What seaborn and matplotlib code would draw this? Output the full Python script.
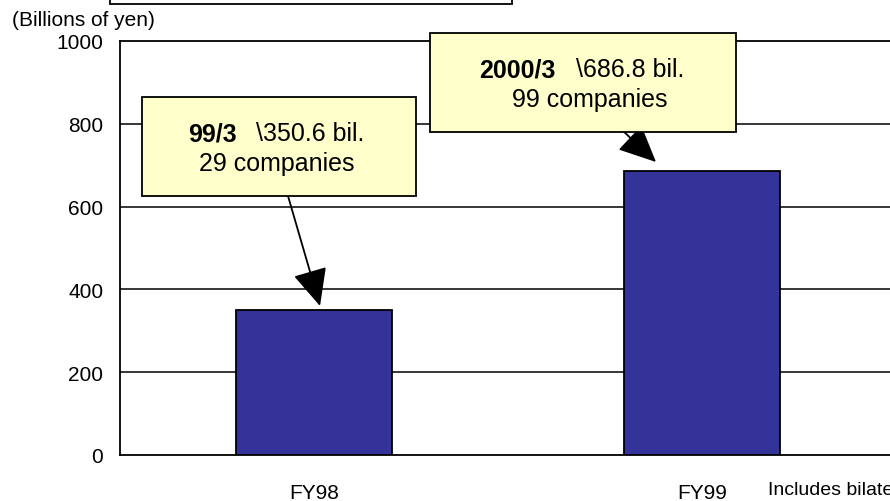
import matplotlib
matplotlib.use("Agg")
import matplotlib.pyplot as plt
import seaborn as sns
import pandas as pd
from matplotlib.patches import Rectangle

# ---- data ----
categories = ["FY98", "FY99"]
values = [350.6, 686.8]
box_periods = ["99/3", "2000/3"]
box_amounts = ["\\350.6 bil.", "\\686.8 bil."]
box_companies = ["29 companies", "99 companies"]
yticks = [0, 200, 400, 600, 800, 1000]

sns.set_theme(style="white")
plt.rcParams["font.family"] = ["Liberation Sans", "DejaVu Sans"]
plt.rcParams["text.color"] = "black"
plt.rcParams["xtick.color"] = "black"
plt.rcParams["ytick.color"] = "black"
plt.rcParams["axes.labelcolor"] = "black"

W, H = 890, 502
fig = plt.figure(figsize=(W / 100, H / 100), dpi=100)
fig.patch.set_facecolor("white")

def fx(px):
    return px / W

def fy(py):
    return (H - py) / H

tick_family = ["Liberation Sans Narrow", "Liberation Sans", "DejaVu Sans"]

ax = fig.add_axes([fx(120), fy(456), fx(896) - fx(120), fy(42) - fy(456)])
df = pd.DataFrame({"cat": categories, "val": values})
sns.barplot(data=df, x="cat", y="val", color="#333399", width=0.4,
            edgecolor="black", linewidth=1.3, saturation=1, ax=ax, zorder=3)
for p in ax.patches:
    p.set_facecolor("#333399")

ax.set_xlim(-0.5, 1.5)
ax.set_ylim(0, 1000)
ax.set_yticks(yticks)
ax.set_yticklabels([str(v) for v in yticks], family=tick_family, fontsize=15, color="black")
ax.tick_params(axis="y", length=0, pad=12)
ax.set_xticks([0, 1])
ax.set_xticklabels(categories, family=tick_family, fontsize=15, color="black")
ax.tick_params(axis="x", length=0, pad=20)
ax.set_xticks([0.5], minor=True)
ax.tick_params(axis="x", which="minor", direction="in", length=7, width=1.2, color="black")
ax.set_xlabel("")
ax.set_ylabel("")
for s in ax.spines.values():
    s.set_color("black")
    s.set_linewidth(1.3)
ax.grid(False)
for v in yticks[1:-1]:
    ax.axhline(v, color="black", lw=1.1, zorder=1)

# top partial box
fig.add_artist(Rectangle((fx(110), fy(5)), fx(512) - fx(110), 0.1, transform=fig.transFigure,
                         facecolor="white", edgecolor="black", lw=1.3, clip_on=False))

fig.text(fx(12), fy(21), "(Billions of yen)", fontsize=15, ha="left", va="center", color="black")
fig.text(fx(768), fy(491), "Includes bilateral", fontsize=14, ha="left", va="center", color="black")

# annotation boxes: (left, top, right, bottom) pixels
boxes = [(142, 98, 416, 197), (430, 34, 736, 133)]
splits = [(237, 256), (555, 576)]
line_y = [(134, 164), (70, 100)]
centers = [277, 590]
arrows = [((288, 197), (320, 307)), ((622, 131), (656, 163))]
for i in range(2):
    l, t, r, b = boxes[i]
    fig.add_artist(Rectangle((fx(l), fy(b)), fx(r) - fx(l), fy(t) - fy(b), transform=fig.transFigure,
                             facecolor="#FFFFCC", edgecolor="black", lw=1.3, zorder=5))
    fig.text(fx(splits[i][0]), fy(line_y[i][0]), box_periods[i], fontsize=18, fontweight="bold",
             ha="right", va="center", zorder=6, color="black")
    fig.text(fx(splits[i][1]), fy(line_y[i][0]), box_amounts[i], fontsize=18,
             ha="left", va="center", zorder=6, color="black")
    fig.text(fx(centers[i]), fy(line_y[i][1]), box_companies[i], fontsize=18,
             ha="center", va="center", zorder=6, color="black")
    (x0, y0), (x1, y1) = arrows[i]
    ax.annotate("", xy=(fx(x1), fy(y1)), xytext=(fx(x0), fy(y0)),
                xycoords="figure fraction", textcoords="figure fraction",
                arrowprops=dict(arrowstyle="-|>,head_length=1.3,head_width=0.6", color="black",
                                lw=1.3, mutation_scale=18, shrinkA=0, shrinkB=0),
                zorder=6, annotation_clip=False)

fig.savefig("out.png", dpi=100, facecolor="white")
